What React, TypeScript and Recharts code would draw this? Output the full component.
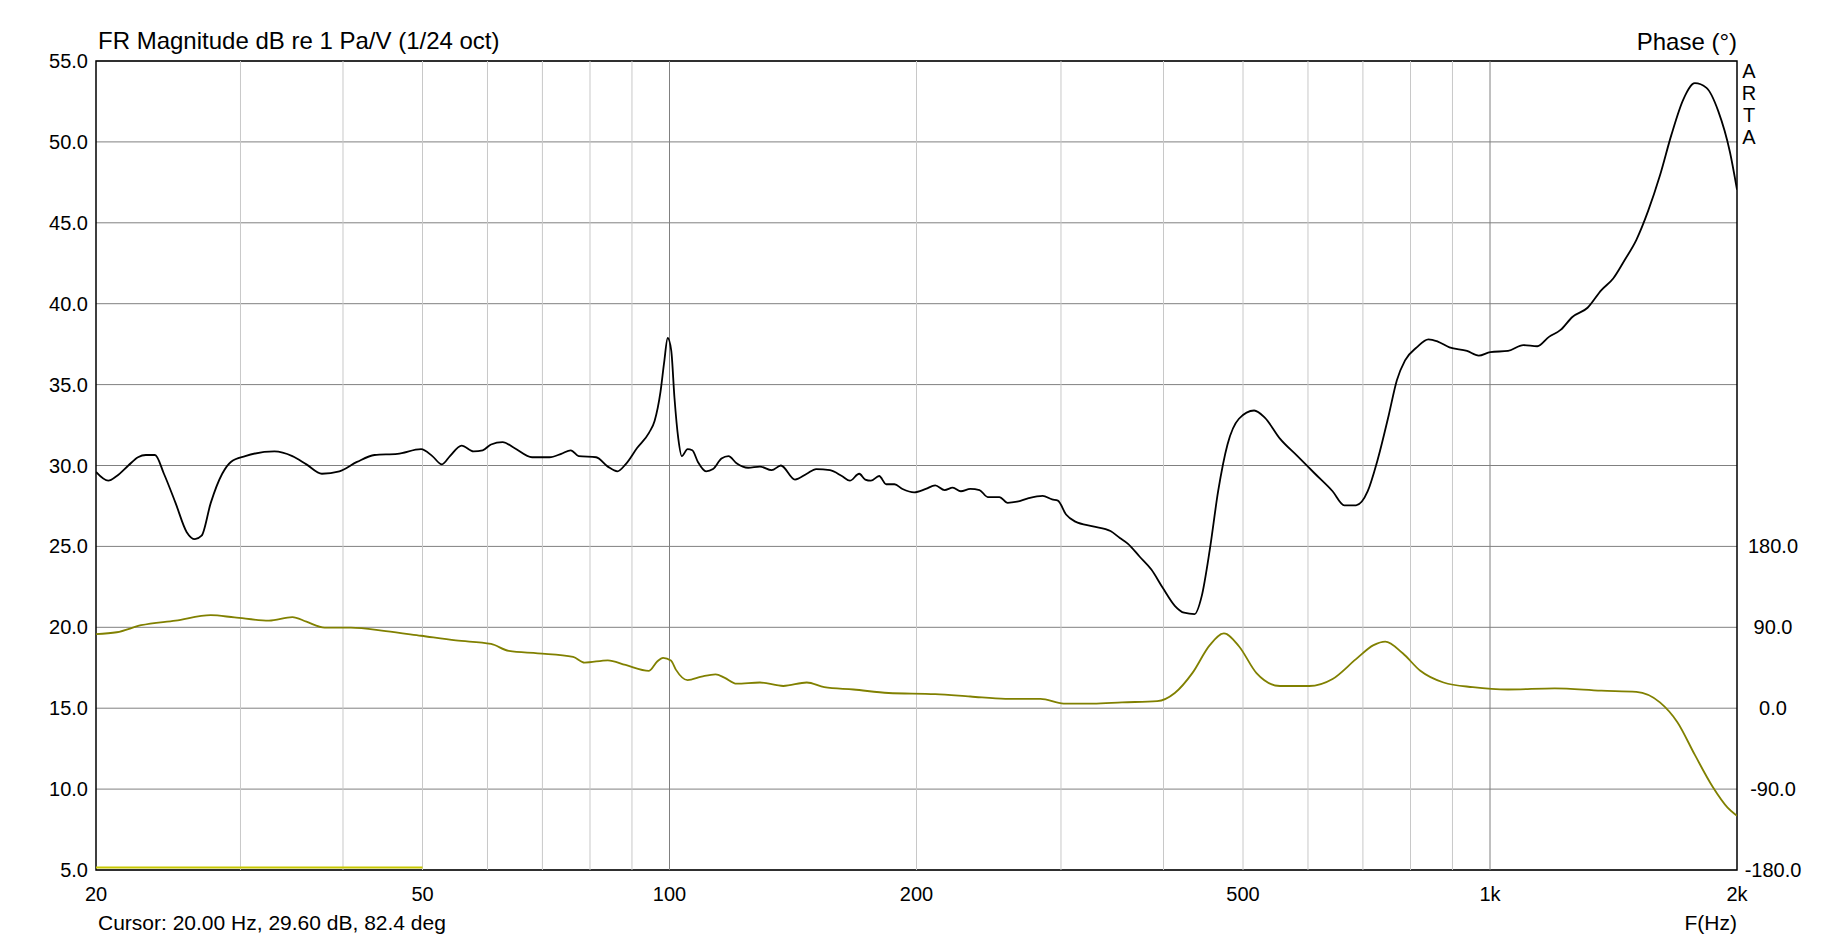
import { LineChart, Line, XAxis, YAxis, CartesianGrid, ReferenceLine, ReferenceArea } from 'recharts';

const FONT = '"Liberation Sans", Arial, sans-serif';

// frequency response magnitude (Hz / dB)
const magFreq = [
  20, 20.7, 21.2, 21.9, 22.5, 23.0, 23.6, 24.2, 25.0, 25.8, 26.4, 26.9, 27.6, 28.5, 29.2, 30.4, 33.0, 34.7, 36.1, 37.7,
  39.6, 41.6, 43.7, 46.6, 49.8, 51.4, 52.8, 54.0, 55.8, 57.7, 59.2, 60.6, 62.6, 64.7, 68.0, 71.4, 73.8, 75.8, 77.5, 81.4,
  84.1, 86.4, 88.4, 91.3, 94.4, 95.9, 97.5, 98.5, 99.5, 100.5, 101.4, 102.5, 103.5, 105.2, 106.6, 108.3, 110.8, 113.0, 115.7, 118.0,
  120.7, 124.7, 128.9, 133.2, 136.7, 142.2, 147.0, 150.9, 156.9, 162.2, 165.9, 170.3, 173.2, 176.0, 180.1, 183.7, 188.0, 192.3, 198.7, 205.3,
  210.8, 216.4, 221.4, 226.5, 232.6, 238.7, 244.3, 252.4, 258.3, 265.2, 274.0, 285.0, 292.6, 297.4, 304.3, 312.4, 328.2, 344.7, 353.9, 362.1,
  374.2, 386.6, 399.5, 412.9, 423.8, 436.5, 445.2, 455.5, 466.3, 478.7, 494.3, 515.9, 531.5, 554.6, 582.6, 612.0, 642.9, 664.4, 686.6, 709.5,
  728.3, 752.6, 770.0, 787.9, 814.1, 841.4, 863.8, 892.5, 937.5, 968.8, 1001, 1052, 1098, 1142, 1180, 1219, 1260, 1315, 1367, 1413,
  1460, 1508, 1559, 1611, 1664, 1720, 1777, 1836, 1898, 1961, 2000,
];
const magDb = [
  29.6, 29.06, 29.35, 30.0, 30.51, 30.65, 30.65, 29.49, 27.69, 25.88, 25.45, 25.66, 27.69, 29.49, 30.22, 30.58, 30.87, 30.58, 30.07, 29.49,
  29.64, 30.22, 30.65, 30.72, 31.01, 30.58, 30.07, 30.58, 31.23, 30.87, 30.94, 31.3, 31.45, 31.08, 30.51, 30.51, 30.72, 30.94, 30.58, 30.51,
  29.93, 29.64, 30.07, 31.08, 32.02, 32.75, 34.55, 36.36, 37.88, 37.08, 34.19, 31.66, 30.58, 31.01, 30.94, 30.22, 29.64, 29.78, 30.43, 30.58,
  30.14, 29.86, 29.93, 29.71, 30.0, 29.13, 29.49, 29.78, 29.71, 29.35, 29.06, 29.49, 29.13, 29.06, 29.35, 28.84, 28.84, 28.55, 28.34, 28.55,
  28.77, 28.48, 28.63, 28.41, 28.55, 28.48, 28.05, 28.05, 27.69, 27.76, 27.98, 28.12, 27.9, 27.83, 26.97, 26.53, 26.24, 25.95, 25.52, 25.16,
  24.36, 23.57, 22.41, 21.33, 20.9, 20.82, 21.91, 24.8, 28.41, 31.3, 32.89, 33.4, 32.96, 31.66, 30.58, 29.49, 28.41, 27.54, 27.54, 28.41,
  30.22, 33.11, 35.27, 36.5, 37.3, 37.8, 37.66, 37.3, 37.08, 36.79, 37.01, 37.08, 37.44, 37.37, 37.95, 38.38, 39.18, 39.75, 40.84, 41.56,
  42.72, 43.95, 45.75, 47.92, 50.45, 52.62, 53.63, 53.34, 51.89, 49.36, 47.05,
];

// phase (Hz / degrees)
const phaseFreq = [
  20, 21.2, 22.7, 25.0, 27.6, 29.5, 32.5, 34.7, 36.1, 38.0, 40.9, 45.1, 49.8, 54.9, 60.6, 63.7, 69.1, 76.3, 78.8, 84.1,
  88.4, 94.4, 96.6, 98.2, 100.4, 101.8, 105.2, 109.4, 113.8, 116.8, 120.7, 128.9, 137.6, 147.0, 154.4, 167.6, 184.9, 210.8, 232.6, 256.6,
  283.2, 302.3, 328.2, 356.1, 393.0, 412.9, 433.7, 455.5, 473.9, 494.3, 519.3, 554.6, 602.1, 642.9, 686.6, 721.3, 745.2, 782.8, 822.4, 877.8,
  952.8, 1052, 1199, 1367, 1508, 1611, 1692, 1777, 1867, 1948, 2000,
];
const phaseDeg = [
  82.4, 84.5, 92.3, 97.5, 103.5, 101.0, 97.5, 101.4, 96.2, 89.7, 89.7, 85.8, 80.6, 75.4, 71.5, 63.7, 61.1, 57.2, 50.7, 53.3,
  48.1, 41.6, 52.0, 56.0, 53.0, 42.9, 31.2, 35.1, 37.7, 33.8, 27.3, 28.6, 24.7, 28.6, 23.4, 20.8, 16.9, 15.6, 13.0, 10.4,
  10.4, 5.2, 5.2, 6.5, 7.8, 16.9, 39.0, 70.2, 83.2, 68.9, 39.0, 24.7, 24.7, 32.5, 54.6, 70.2, 74.1, 61.1, 41.6, 28.6,
  23.4, 20.8, 22.1, 19.5, 18.2, 6.5, -15.6, -52.0, -87.1, -110.6, -119.7,
];

// short marker trace along the bottom
const markerFreq = [20, 50];
const markerDb = [5.15, 5.15];

const xTicks = [20, 50, 100, 200, 500, 1000, 2000];
const dbTicks = [5, 10, 15, 20, 25, 30, 35, 40, 45, 50, 55];
const phaseTicks = [-180, -90, 0, 90, 180];
const minorGrid = [30, 40, 50, 60, 70, 80, 90, 200, 300, 400, 500, 600, 700, 800, 900];
const majorGrid = [100, 1000];

const magData = magFreq.map((f, i) => ({ f, v: magDb[i] }));
const phaseData = phaseFreq.map((f, i) => ({ f, v: phaseDeg[i] }));
const markerData = markerFreq.map((f, i) => ({ f, v: markerDb[i] }));

const fmtFreq = (v: number) => (v >= 1000 ? `${v / 1000}k` : `${v}`);

const XTick = ({ x, payload }: any) => (
  <text x={x} y={901} textAnchor="middle" fontSize={20} fontFamily={FONT} fill="#000">
    {fmtFreq(payload.value)}
  </text>
);

const LeftTick = ({ y, payload }: any) => (
  <text x={88} y={y + 7} textAnchor="end" fontSize={20} fontFamily={FONT} fill="#000">
    {payload.value.toFixed(1)}
  </text>
);

const RightTick = ({ y, payload }: any) => (
  <text x={1773} y={y + 7} textAnchor="middle" fontSize={20} fontFamily={FONT} fill="#000">
    {payload.value.toFixed(1)}
  </text>
);

export default function App() {
  return (
    <div style={{ position: 'absolute', left: 0, top: 0, width: 1833, height: 942, background: '#fff' }}>
      <LineChart width={1833} height={942} margin={{ top: 61, right: 16, bottom: 32, left: 10 }}>
        <CartesianGrid yAxisId="mag" vertical={false} stroke="#808080" strokeWidth={1} />
        <XAxis
          dataKey="f"
          type="number"
          scale="log"
          domain={[20, 2000]}
          ticks={xTicks}
          allowDataOverflow
          axisLine={false}
          tickLine={false}
          tick={XTick}
          height={40}
        />
        <YAxis
          yAxisId="mag"
          domain={[5, 55]}
          ticks={dbTicks}
          axisLine={false}
          tickLine={false}
          tick={LeftTick}
          width={86}
        />
        <YAxis
          yAxisId="phase"
          orientation="right"
          domain={[-180, 720]}
          ticks={phaseTicks}
          axisLine={false}
          tickLine={false}
          tick={RightTick}
          width={80}
        />
        {minorGrid.map((f) => (
          <ReferenceLine key={`mi${f}`} yAxisId="mag" x={f} stroke="#c8c8c8" strokeWidth={1} />
        ))}
        {majorGrid.map((f) => (
          <ReferenceLine key={`ma${f}`} yAxisId="mag" x={f} stroke="#808080" strokeWidth={1} />
        ))}
        <Line
          yAxisId="mag"
          data={markerData}
          dataKey="v"
          type="linear"
          stroke="#c8c800"
          strokeWidth={2}
          dot={false}
          isAnimationActive={false}
        />
        <Line
          yAxisId="phase"
          data={phaseData}
          dataKey="v"
          type="monotone"
          stroke="#808000"
          strokeWidth={1.8}
          dot={false}
          isAnimationActive={false}
        />
        <Line
          yAxisId="mag"
          data={magData}
          dataKey="v"
          type="monotone"
          stroke="#000"
          strokeWidth={1.8}
          dot={false}
          isAnimationActive={false}
        />
        <ReferenceArea
          yAxisId="mag"
          x1={20}
          x2={2000}
          y1={5}
          y2={55}
          fill="none"
          stroke="#000"
          strokeWidth={1.5}
          ifOverflow="visible"
        />
      </LineChart>
      <svg
        width={1833}
        height={942}
        style={{ position: 'absolute', left: 0, top: 0, pointerEvents: 'none' }}
        fontFamily={FONT}
      >
        <text x={98} y={49} fontSize={24} fill="#000">FR Magnitude dB re 1 Pa/V (1/24 oct)</text>
        <text x={1737} y={50} fontSize={24} textAnchor="end" fill="#000">Phase (°)</text>
        {['A', 'R', 'T', 'A'].map((c, i) => (
          <text key={i} x={1749} y={78 + i * 22} fontSize={20} textAnchor="middle" fill="#000">{c}</text>
        ))}
        <text x={98} y={930} fontSize={21} fill="#000">Cursor: 20.00 Hz, 29.60 dB, 82.4 deg</text>
        <text x={1737} y={930} fontSize={21} textAnchor="end" fill="#000">F(Hz)</text>
      </svg>
    </div>
  );
}
